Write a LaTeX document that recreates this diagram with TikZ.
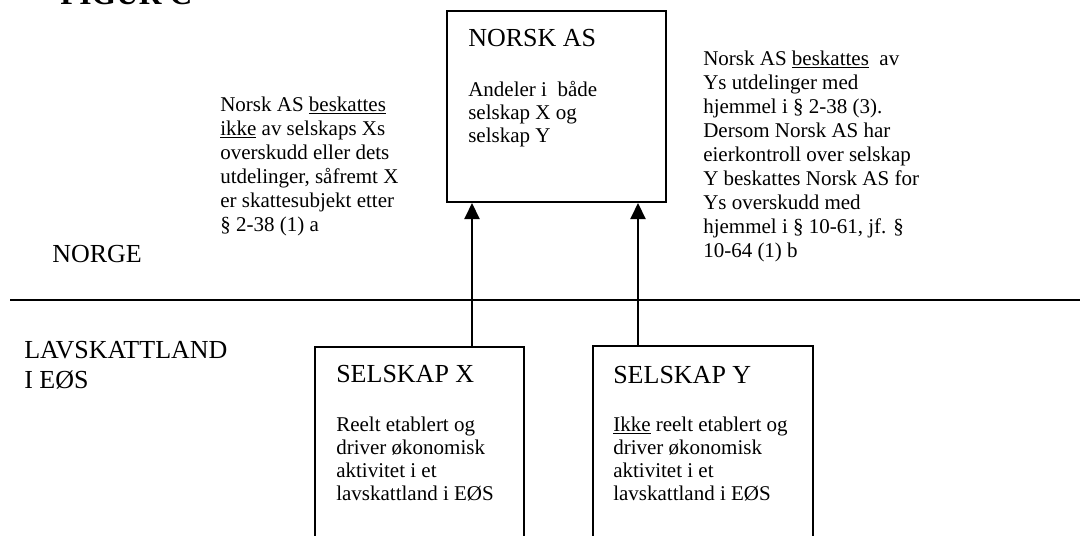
\documentclass[tikz,border=0pt]{standalone}
\usepackage{fontspec}
\setmainfont{Liberation Serif}
\usetikzlibrary{arrows.meta}
\newcommand{\bodyfnt}{\fontsize{15.75}{18}\selectfont}
\newcommand{\boxbodyfnt}{\fontsize{15.75}{17.25}\selectfont}
\newcommand{\bigfnt}{\fontsize{19.5}{22.5}\selectfont}
\newcommand{\figfnt}{\fontsize{23.6}{27}\selectfont\bfseries}
\newcommand{\fr}{\rule{0pt}{15pt}}
\newcommand{\frbig}{\rule{0pt}{20pt}}
\tikzset{
  x=0.75pt, y=-0.75pt,
  boxnode/.style={draw, line width=1.5pt, rectangle, inner sep=0pt},
  txtblock/.style={anchor=north west, inner sep=0pt, align=left},
  oneline/.style={anchor=base west, inner sep=0pt},
  rule/.style={line width=1.5pt},
  arr/.style={line width=1.5pt, -{Triangle[length=12pt,width=11.25pt]}}
}
\begin{document}
\begin{tikzpicture}
\useasboundingbox (0,0) rectangle (1080,535);
% boxes
\node[boxnode, minimum width=164.25pt, minimum height=143.25pt] (norsk) at (556.5,106.5) {};
\node[boxnode, minimum width=156.75pt, minimum height=163.5pt] (selx) at (419.5,456) {};
\node[boxnode, minimum width=165pt, minimum height=164.25pt] (sely) at (703,455.5) {};
% border line
\coordinate (hl) at (10,300);
\coordinate (hr) at (1085,300);
\draw[rule] (hl) -- (hr);
% arrows
\coordinate (ax) at (472,0);
\coordinate (ay) at (638,0);
\draw[arr] (selx.north -| ax) -- (norsk.south -| ax);
\draw[arr] (sely.north -| ay) -- (norsk.south -| ay);
% texts
\node[oneline, font=\figfnt] (fig) at (60,5) {FIGUR C};
\node[oneline, font=\bigfnt] (ntitle) at (468,46) {NORSK AS};
\node[txtblock, font=\boxbodyfnt] (nbody) at (468,76) {\fr Andeler i\ \ både\\selskap X og\\selskap Y};
\node[txtblock, font=\bodyfnt] (ltext) at (220,91) {\fr Norsk AS \underline{beskattes}\\\underline{ikke} av selskaps Xs\\overskudd eller dets\\utdelinger, såfremt X\\er skattesubjekt etter\\§ 2-38 (1) a};
\node[txtblock, font=\bodyfnt] (rtext) at (703,45) {\fr Norsk AS \underline{beskattes}\ \ av\\Ys utdelinger med\\hjemmel i § 2-38 (3).\\Dersom Norsk AS har\\eierkontroll over selskap\\Y beskattes Norsk AS for\\Ys overskudd med\\hjemmel i § 10-61, jf. §\\10-64 (1) b};
\node[oneline, font=\bigfnt] (norge) at (52,262) {NORGE};
\node[txtblock, font=\bigfnt] (lav) at (24,331.33) {\frbig LAVSKATTLAND\\I EØS};
\node[oneline, font=\bigfnt] (xtitle) at (336,382) {SELSKAP X};
\node[oneline, font=\bigfnt] (ytitle) at (613,383) {SELSKAP Y};
\node[txtblock, font=\boxbodyfnt] (xbody) at (336,411) {\fr Reelt etablert og\\driver økonomisk\\aktivitet i et\\lavskattland i EØS};
\node[txtblock, font=\boxbodyfnt] (ybody) at (613,411) {\fr \underline{Ikke} reelt etablert og\\driver økonomisk\\aktivitet i et\\lavskattland i EØS};
\end{tikzpicture}
\end{document}
